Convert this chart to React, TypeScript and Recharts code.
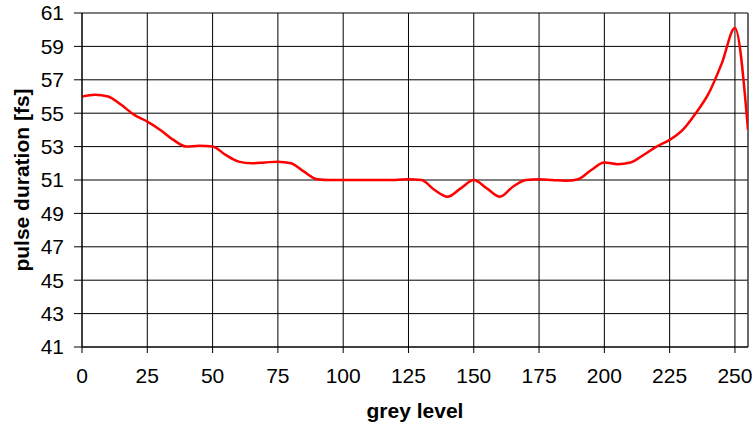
import React from 'react';
import { LineChart, Line, XAxis, YAxis, CartesianGrid, ReferenceLine } from 'recharts';

const greyLevels = [0, 5, 10, 15, 20, 25, 30, 35, 40, 45, 50, 55, 60, 65, 70, 75, 80, 85, 90, 95, 100, 105, 110, 115, 120, 125, 130, 135, 140, 145, 150, 155, 160, 165, 170, 175, 180, 185, 190, 195, 200, 205, 210, 215, 220, 225, 230, 235, 240, 245, 250, 255];
const pulseDuration = [56.0, 56.1, 56.0, 55.5, 54.9, 54.5, 54.0, 53.4, 53.0, 53.05, 53.0, 52.5, 52.1, 52.0, 52.05, 52.1, 52.0, 51.5, 51.05, 51.0, 51.0, 51.0, 51.0, 51.0, 51.0, 51.05, 51.0, 50.4, 50.0, 50.5, 51.0, 50.5, 50.0, 50.6, 51.0, 51.05, 51.0, 50.95, 51.05, 51.6, 52.05, 51.95, 52.05, 52.5, 53.0, 53.4, 54.0, 55.0, 56.2, 58.0, 60.1, 54.0];
const xTicks = [0, 25, 50, 75, 100, 125, 150, 175, 200, 225, 250];
const yTicks = [41, 43, 45, 47, 49, 51, 53, 55, 57, 59, 61];

const data = greyLevels.map((x, i) => ({ x, y: pulseDuration[i] }));

const FONT = '"Liberation Sans", Arial, Helvetica, sans-serif';

export default function App() {
  return (
    <div style={{ position: 'absolute', left: 0, top: 0, width: 754, height: 423, background: '#fff' }}>
      <LineChart width={754} height={423} data={data} margin={{ top: 13, right: 6, left: 0, bottom: 0 }}>
        <CartesianGrid stroke="#000" strokeWidth={1} />
        <ReferenceLine x={255} stroke="#555" strokeWidth={1} />
        <XAxis
          dataKey="x"
          type="number"
          domain={[0, 255]}
          ticks={xTicks}
          interval={0}
          allowDataOverflow
          height={76}
          tickSize={6}
          tickMargin={15}
          axisLine={{ stroke: '#000' }}
          tickLine={{ stroke: '#000' }}
          tick={{ fontSize: 21, fill: '#000', fontFamily: FONT }}
          label={{
            content: () => (
              <text x={415} y={410} textAnchor="middle" dominantBaseline="central" fontFamily={FONT} fontWeight="bold" fontSize={21} fill="#000">
                grey level
              </text>
            ),
          }}
        />
        <YAxis
          type="number"
          domain={[41, 61]}
          ticks={yTicks}
          interval={0}
          allowDataOverflow
          width={82}
          tickSize={8}
          tickMargin={10}
          axisLine={{ stroke: '#000' }}
          tickLine={{ stroke: '#000' }}
          tick={{ fontSize: 21, fill: '#000', fontFamily: FONT }}
          label={{
            content: () => (
              <text x={21} y={180} transform="rotate(-90 21 180)" textAnchor="middle" dominantBaseline="central" fontFamily={FONT} fontWeight="bold" fontSize={21} fill="#000">
                pulse duration [fs]
              </text>
            ),
          }}
        />
        <Line type="monotone" dataKey="y" stroke="#ff0000" strokeWidth={2.5} dot={false} isAnimationActive={false} />
      </LineChart>
    </div>
  );
}
